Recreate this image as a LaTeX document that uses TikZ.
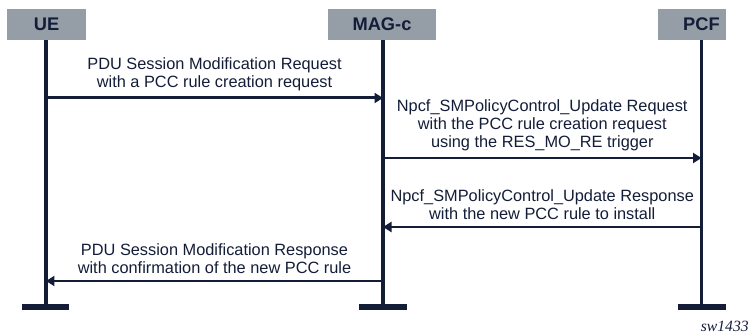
\documentclass[tikz,border=0pt]{standalone}
\usepackage{fontspec}
\setmainfont{Liberation Sans}
\newfontfamily\tagfont{Liberation Serif}
\usetikzlibrary{arrows.meta}
\definecolor{navy}{HTML}{131D38}
\definecolor{boxgray}{HTML}{959EA7}

\begin{document}
\begin{tikzpicture}[x=0.02cm,y=-0.02cm]
		\tikzstyle{entity}=[fill=boxgray,text=navy,font=\fontsize{10.4}{12}\selectfont\bfseries,minimum height=0.62cm,inner sep=0pt]
		\tikzstyle{lifeline}=[draw=navy,line width=1.8pt]
		\tikzstyle{bar}=[draw=navy,line width=2.9pt]
		\tikzstyle{msgarrow}=[draw=navy,line width=1.7pt,-{Triangle[length=0.17cm,width=0.2cm]}]
		\tikzstyle{msg}=[text=navy,font=\fontsize{9.3}{10}\selectfont,align=center,inner sep=0pt]
		
		\useasboundingbox (0,0) rectangle (750,333);
		
		\node[entity,minimum width=1.58cm](ue) at (46.5,24.5) {UE};
		\node[entity,minimum width=2.16cm](mag) at (382,24.5) {MAG-c};
		\node[entity,minimum width=1.36cm](pcfbox) at (692,24.5) {};
		\node[entity,fill=none](pcf) at (701.5,24.5) {PCF};
		
		\coordinate (uetop) at (46,40);
		\coordinate (uebot) at (46,307);
		\coordinate (magtop) at (383,40);
		\coordinate (magbot) at (383,307);
		\coordinate (pcftop) at (701.5,40);
		\coordinate (pcfbot) at (701.5,307);
		
		\draw[lifeline] (uetop) -- (uebot);
		\draw[lifeline] (magtop) -- (magbot);
		\draw[lifeline] (pcftop) -- (pcfbot);
		\draw[bar] ([xshift=-0.48cm]uebot) -- ([xshift=0.47cm]uebot);
		\draw[bar] ([xshift=-0.48cm]magbot) -- ([xshift=0.48cm]magbot);
		\draw[bar] ([xshift=-0.48cm]pcfbot) -- ([xshift=0.48cm]pcfbot);
		
		\coordinate (m1a) at (46,98);
		\coordinate (m1b) at (383,98);
		\coordinate (m2a) at (383,158);
		\coordinate (m2b) at (701.5,158);
		\coordinate (m3a) at (701.5,227);
		\coordinate (m3b) at (383,227);
		\coordinate (m4a) at (383,281);
		\coordinate (m4b) at (46,281);
		
		\draw[msgarrow] (m1a) -- node[msg,above=0.12cm](t1){PDU Session Modification Request\\with a PCC rule creation request} (m1b);
		\draw[msgarrow] (m2a) -- node[msg,above=0.12cm](t2){Npcf\_SMPolicyControl\_Update Request\\with the PCC rule creation request\\using the RES\_MO\_RE trigger} (m2b);
		\draw[msgarrow] (m3a) -- node[msg,above=0.12cm](t3){Npcf\_SMPolicyControl\_Update Response\\with the new PCC rule to install} (m3b);
		\draw[msgarrow] (m4a) -- node[msg,above=0.12cm](t4){PDU Session Modification Response\\with confirmation of the new PCC rule} (m4b);
		
		\node[anchor=east,inner sep=0pt,text=navy,font=\tagfont\itshape\fontsize{8.9}{10}\selectfont](tag) at (749,326) {sw1433};
\end{tikzpicture}
\end{document}
